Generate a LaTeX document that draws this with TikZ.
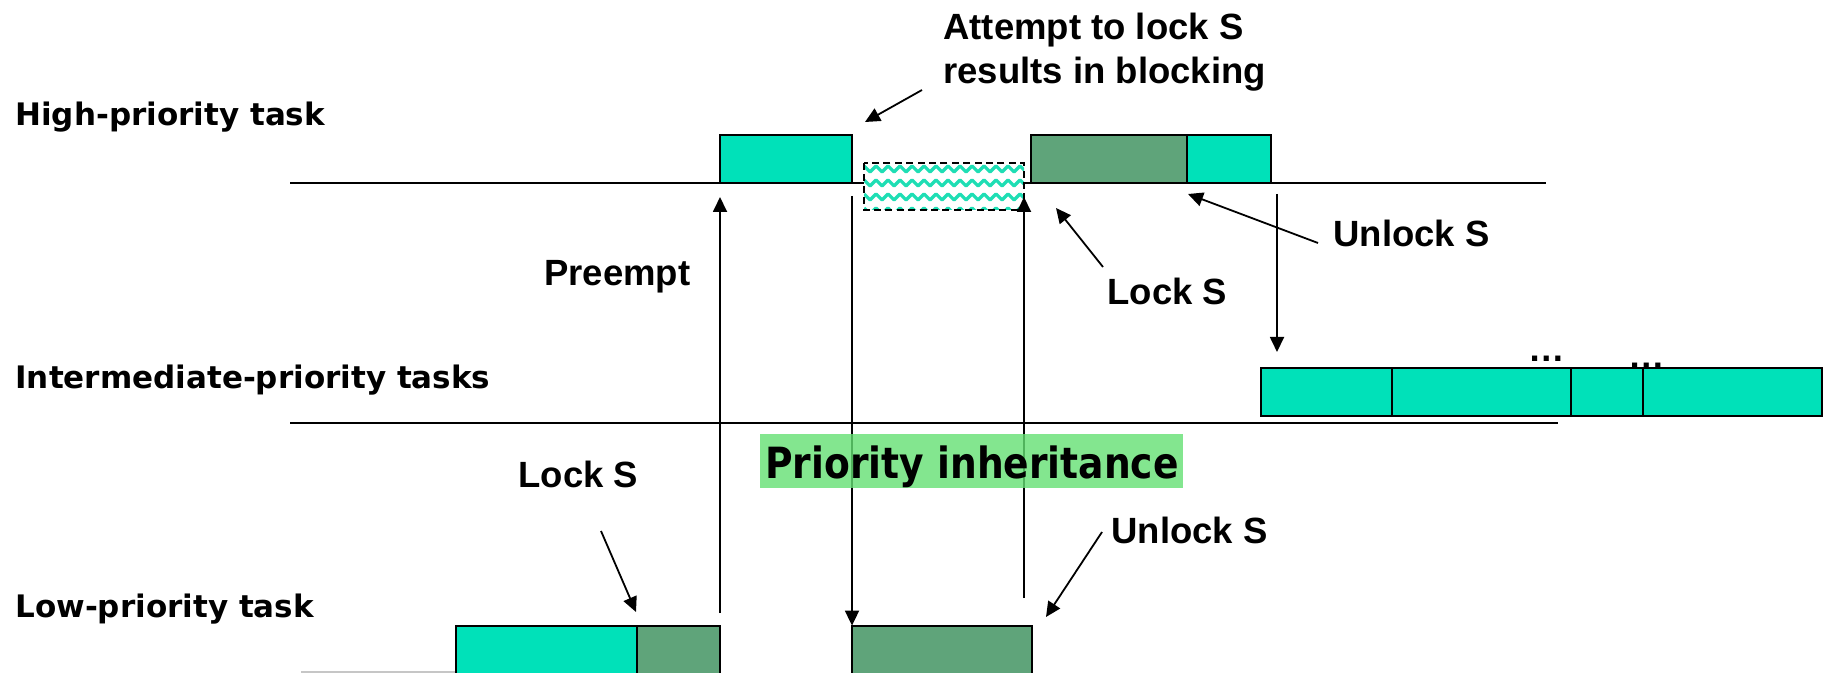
\documentclass[tikz,border=0pt]{standalone}
\usepackage{fontspec}
\setmainfont{Liberation Sans}
\newfontfamily\taskfont{DejaVu Sans}
\usetikzlibrary{arrows.meta}

\definecolor{runcyan}{RGB}{0,225,185}
\definecolor{crit}{RGB}{95,164,122}
\definecolor{inhgreen}{RGB}{100,224,115}
\definecolor{wave}{RGB}{30,222,180}

% one execution segment: name, x1, y1, x2, y2, fill colour
\newcommand\taskseg[6]{%
  \node[segbox,fill=#6,minimum width={(#4-#2)*0.5pt},minimum height={(#5-#3)*0.5pt}] (#1) at (#2,#3) {};}

\begin{document}
\begin{tikzpicture}[x=0.5pt,y=-0.5pt,
  segbox/.style={draw,line width=1pt,inner sep=0pt,outer sep=0pt,anchor=north west},
  axis/.style={line width=1pt},
  arr/.style={line width=0.9pt,-{Triangle[length=7.5pt,width=7pt]}},
  lab/.style={anchor=base west,inner sep=0pt,font=\fontsize{18.25pt}{22pt}\selectfont\bfseries},
  tasklab/.style={anchor=base west,inner sep=0pt,font=\taskfont\fontsize{15.5pt}{18pt}\selectfont\bfseries},
  hatchedge/.style={draw,line width=1.1pt,dash pattern=on 3.5pt off 2.2pt},
]
\fill[white] (0,0) rectangle (1830,673);
\useasboundingbox (0,0) rectangle (1830,673);

% task rows
\node[tasklab] (thigh) at (15,126) {High-priority task};
\node[tasklab] (tint)  at (15,388) {Intermediate-priority tasks};
\node[tasklab] (tlow)  at (15,617) {Low-priority task};

% time lines
\coordinate (hl0) at (290,183);   \coordinate (hl1) at (1546,183);
\coordinate (il0) at (290,422.5); \coordinate (il1) at (1558,422.5);
\coordinate (ll0) at (301,672);   \coordinate (ll1) at (456,672);
\draw[axis] (hl0) -- (hl1);
\draw[axis] (il0) -- (il1);
\draw[line width=0.8pt,gray!45] (ll0) -- (ll1);

% high-priority segments
\taskseg{h1}{720}{135}{852}{183}{runcyan}
\taskseg{h2}{1031}{135}{1187}{183}{crit}
\taskseg{h3}{1187}{135}{1271}{183}{runcyan}

% blocked interval
\node[segbox,draw=none,fill=white,minimum width=80pt,minimum height=23.5pt] (hb) at (864,163) {};
\begin{scope}
  \clip (hb.north west) rectangle (hb.south east);
  \foreach \r in {0,...,3} {
    \draw[wave,line width=1.6pt,line join=round]
      (864,{166+14*\r}) \foreach \i in {1,...,27} { -- ({864+6*\i},{166+14*\r+6*mod(\i,2)}) };
  }
\end{scope}
\draw[hatchedge] (hb.north west) rectangle (hb.south east);

% intermediate-priority segments
\node[lab,anchor=base] (dots1) at (1547,361.5) {…};
\node[lab,anchor=base] (dots2) at (1647,368.5) {…};
\taskseg{i1}{1260.6}{368}{1391.5}{416}{runcyan}
\taskseg{i2}{1391.5}{368}{1570.6}{416}{runcyan}
\taskseg{i3}{1570.6}{368}{1642.6}{416}{runcyan}
\taskseg{i4}{1642.6}{368}{1822}{416}{runcyan}

% low-priority segments
\taskseg{l1}{456}{625.6}{637}{674}{runcyan}
\taskseg{l2}{637}{625.6}{720}{674}{crit}
\taskseg{l3}{852}{625.6}{1032}{674}{crit}

% context switches
\coordinate (pA0) at (720,613);  \coordinate (pA1) at (720,197);
\coordinate (pB0) at (852,196);  \coordinate (pB1) at (852,625.6);
\coordinate (pC0) at (1024,598); \coordinate (pC1) at (1024,197);
\coordinate (pD0) at (1277,194); \coordinate (pD1) at (1277,352);
\draw[arr] (pA0) -- (pA1);
\draw[arr] (pB0) -- (pB1);
\draw[arr] (pC0) -- (pC1);
\draw[arr] (pD0) -- (pD1);

% inheritance banner
\node[anchor=north west,inner sep=0pt,outer sep=0pt,minimum width=211.5pt,minimum height=27pt,
      fill=inhgreen,fill opacity=0.8] (inhbg) at (760,434) {};
\node[anchor=base west,inner sep=0pt,font=\taskfont\fontsize{21.5pt}{24pt}\selectfont\bfseries]
      (inh) at (765,478) {\scalebox{0.875}[1]{Priority inheritance}};

% annotations
\node[lab] (att1) at (943,40) {Attempt to lock S};
\node[lab] (att2) at (943,84) {results in blocking};
\node[lab] (pre) at (544,286) {Preempt};
\node[lab] (lockH) at (1107,305) {Lock S};
\node[lab] (unlockH) at (1333,246.5) {Unlock S};
\node[lab] (lockL) at (518,487) {Lock S};
\node[lab] (unlockL) at (1111,543) {Unlock S};

\coordinate (attS) at (922,90);     \coordinate (attT) at (865,122);
\coordinate (lockHS) at (1103,267); \coordinate (lockHT) at (1056,208);
\coordinate (unlHS) at (1318,243);  \coordinate (unlHT) at (1188,194);
\coordinate (lockLS) at (601,531);  \coordinate (lockLT) at (636,612);
\coordinate (unlLS) at (1102,532);  \coordinate (unlLT) at (1046,617);
\draw[arr] (attS) -- (attT);
\draw[arr] (lockHS) -- (lockHT);
\draw[arr] (unlHS) -- (unlHT);
\draw[arr] (lockLS) -- (lockLT);
\draw[arr] (unlLS) -- (unlLT);
\end{tikzpicture}
\end{document}
